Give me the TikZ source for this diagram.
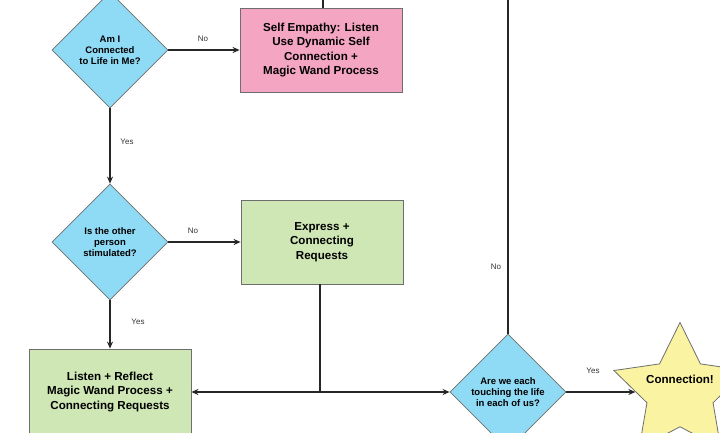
\documentclass[tikz,border=0pt]{standalone}
\usepackage{fontspec}
\setmainfont{Liberation Sans}
\usetikzlibrary{shapes.geometric,arrows.meta}
\definecolor{dblue}{HTML}{8FDAF5}
\definecolor{bpink}{HTML}{F4A5C1}
\definecolor{bgreen}{HTML}{CFE6B5}
\definecolor{syellow}{HTML}{FAF4A2}
\definecolor{edgec}{HTML}{6E6E6E}
\definecolor{linec}{HTML}{262626}
\tikzset{
  decision/.style={diamond, draw=edgec, line width=0.8pt, fill=dblue, inner sep=0pt,
    minimum width=116pt, minimum height=116pt, align=center,
    font=\fontsize{9.5}{11}\selectfont\bfseries},
  procbox/.style={rectangle, draw=edgec, line width=0.8pt, inner sep=0pt,
    minimum width=162pt, minimum height=84pt, align=center,
    font=\fontsize{11.6}{14.4}\selectfont\bfseries},
  flow/.style={draw=linec, line width=1.3pt},
  arr/.style={flow, -{Stealth[length=7pt,width=6pt]}},
  lbl/.style={font=\fontsize{8}{10}\selectfont, text=black!80, inner sep=0pt}
}
\begin{document}
\begin{tikzpicture}[x=1pt,y=-1pt]
\useasboundingbox (0,0) rectangle (720,433);
\clip (0,0) rectangle (720,433);
% nodes
\node[decision] (d1) at (110,50) {Am I\\Connected\\to Life in Me?};
\node[procbox, fill=bpink] (self) at (321,50) {Self Empathy: Listen\\Use Dynamic Self\\Connection +\\Magic Wand Process};
\node[decision] (d2) at (110,242) {Is the other\\person\\stimulated?};
\node[procbox, fill=bgreen] (expr) at (322,242) {Express +\\Connecting\\Requests};
\node[procbox, fill=bgreen, minimum height=86pt] (listen) at (110,392) {Listen + Reflect\\Magic Wand Process +\\Connecting Requests};
\node[decision, minimum height=116pt] (d3) at (508,392) {Are we each\\touching the life\\in each of us?};
\node[star, star points=5, star point ratio=2, draw=edgec, line width=0.8pt, fill=syellow,
  minimum size=139pt, inner sep=0pt] (star) at (680,392) {};
\node[font=\fontsize{11.6}{14}\selectfont\bfseries, inner sep=0pt] (startext) at (680,379) {Connection!};
\coordinate (topself) at (323,-10);
\coordinate (topd3) at (508,-10);
\coordinate (junc) at (320,392);
% connectors
\draw[arr] (d1.east) -- (self.west);
\draw[arr] (d1.south) -- (d2.north);
\draw[arr] (d2.east) -- (expr.west);
\draw[arr] (d2.south) -- (listen.north);
\draw[flow] (self.north -| topself) -- (topself);
\draw[flow] (d3.north) -- (topd3);
\draw[flow] (expr.south -| junc) -- (junc);
\draw[flow, {Stealth[length=7pt,width=6pt]}-{Stealth[length=7pt,width=6pt]}] (listen.east) -- (d3.west);
\draw[arr] (d3.east) -- (d3.east -| star.west);
% labels
\node[lbl] (l1) at (203,39) {No};
\node[lbl] (l2) at (127,142) {Yes};
\node[lbl] (l3) at (193,231) {No};
\node[lbl] (l4) at (138,322) {Yes};
\node[lbl] (l5) at (496,267) {No};
\node[lbl] (l6) at (593,371) {Yes};
\end{tikzpicture}
\end{document}
